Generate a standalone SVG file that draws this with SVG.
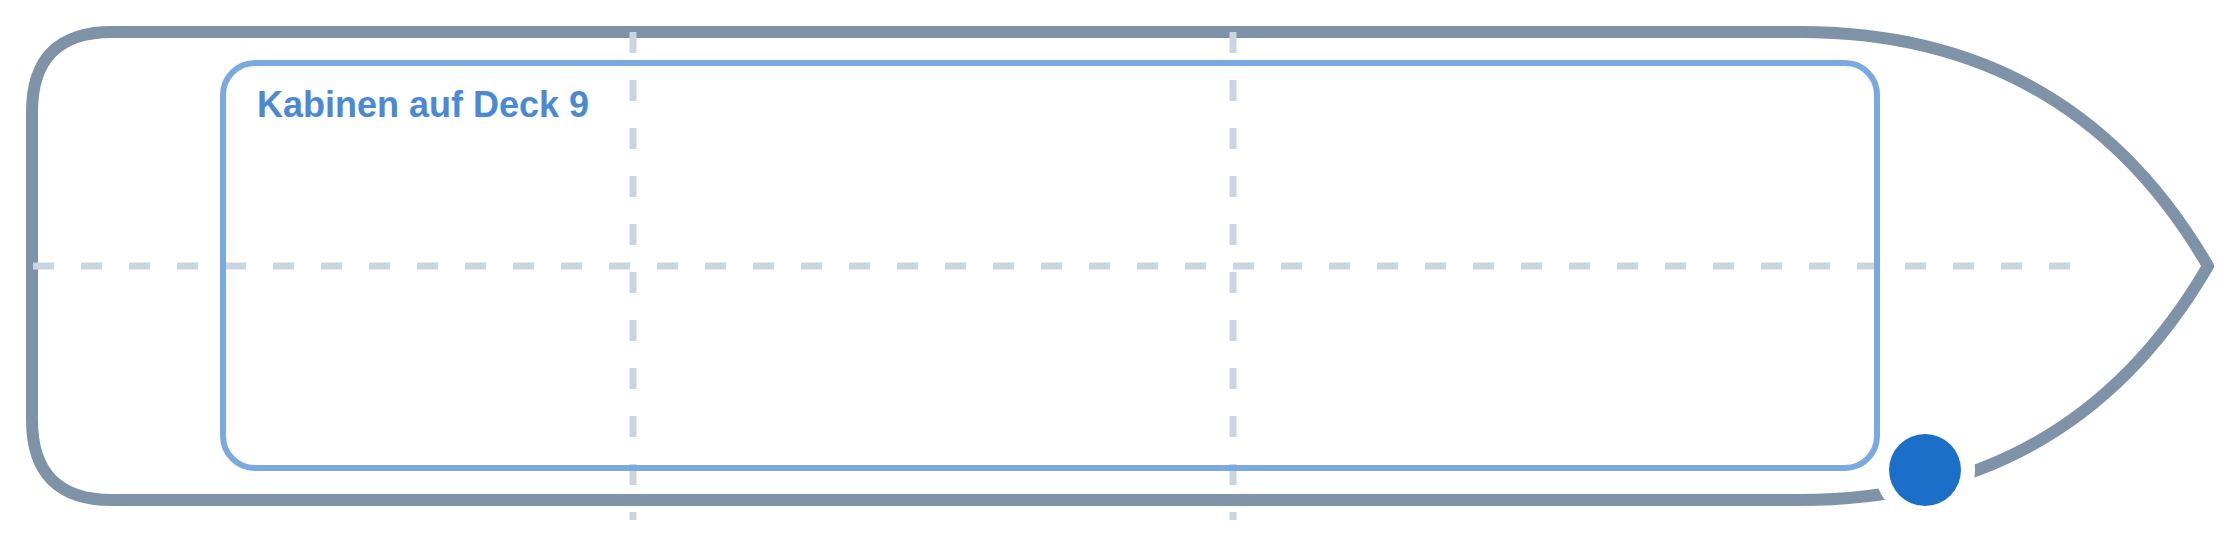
<svg xmlns="http://www.w3.org/2000/svg" width="2240" height="533" viewBox="0 0 2240 533">
<style>
.hull{fill:none;stroke:#7f93a8;stroke-width:12;stroke-linejoin:round}
.grid{fill:none;stroke:#c9d5e1;stroke-width:7;stroke-dasharray:21 27}
.deck{fill:none;stroke:#7aa9e0;stroke-width:6}
.label{font-family:"Liberation Sans",Arial,sans-serif;font-weight:bold;font-size:36px;fill:#4a89d4}
</style>
<rect width="2240" height="533" fill="#ffffff"/>
<g id="hull">
<path class="hull" d="M 112 32 L 1800 32 Q 2072 32 2208 266 Q 2072 500 1800 500 L 112 500 Q 32 500 32 420 L 32 112 Q 32 32 112 32 Z"/>
</g>
<g id="grid">
<line class="grid" x1="33" y1="266" x2="2080" y2="266"/>
<line class="grid" x1="633" y1="32" x2="633" y2="520"/>
<line class="grid" x1="1233" y1="32" x2="1233" y2="520"/>
</g>
<g id="deck9">
<rect class="deck" x="223" y="63" width="1654" height="405" rx="32" ry="32"/>
<text class="label" x="257" y="117">Kabinen auf Deck 9</text>
</g>
<g id="marker">
<circle cx="1925" cy="470" r="50" fill="#ffffff"/>
<circle cx="1925" cy="470" r="36" fill="#1c6fc9"/>
</g>
</svg>
